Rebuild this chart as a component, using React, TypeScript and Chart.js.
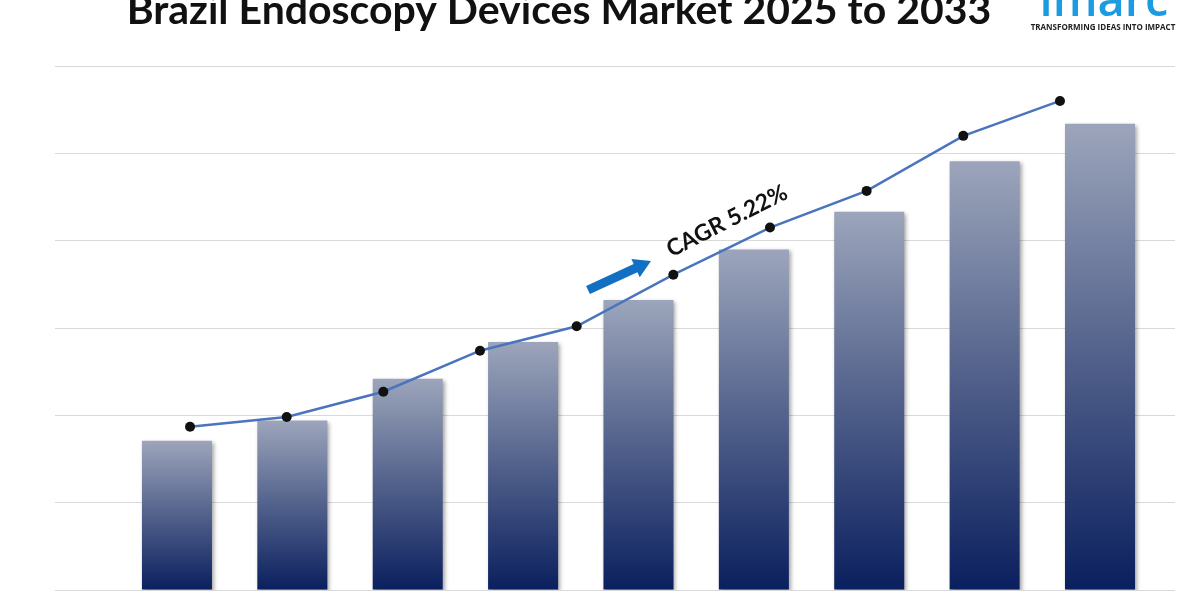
import React, { useEffect, useRef } from "react";
import { Chart, registerables } from "chart.js";

Chart.register(...registerables);

// ---- data ----
const years = ["2025", "2026", "2027", "2028", "2029", "2030", "2031", "2032", "2033"];
const barValues = [1.71, 1.94, 2.42, 2.84, 3.32, 3.9, 4.33, 4.91, 5.34];
const trendValues = [1.87, 1.98, 2.27, 2.74, 3.02, 3.61, 4.15, 4.57, 5.2, 5.6];
const yTicks = [0, 1, 2, 3, 4, 5, 6];
const titleText = "Brazil Endoscopy Devices Market 2025 to 2033";
const cagrText = "CAGR 5.22%";
const brandText = "imarc";
const taglineText = "TRANSFORMING IDEAS INTO IMPACT";

const shadowPlugin = {
  id: "barShadow",
  beforeDatasetDraw(chart: any, args: any) {
    if (args.index !== 0) return;
    const ctx = chart.ctx;
    ctx.save();
    ctx.shadowColor = "rgba(0,0,0,0.35)";
    ctx.shadowBlur = 4;
    ctx.shadowOffsetX = 2;
    ctx.shadowOffsetY = 2;
  },
  afterDatasetDraw(chart: any, args: any) {
    if (args.index !== 0) return;
    chart.ctx.restore();
  },
};

const decorPlugin = {
  id: "decor",
  afterDraw(chart: any) {
    const ctx = chart.ctx as CanvasRenderingContext2D;
    ctx.save();
    // title
    ctx.fillStyle = "#111111";
    ctx.font = "bold 41px Lato";
    ctx.textAlign = "center";
    ctx.textBaseline = "alphabetic";
    ctx.fillText(titleText, 559, 24);

    // brand logo
    ctx.fillStyle = "#1b9be0";
    ctx.font = "600 47px 'Open Sans'";
    ctx.textAlign = "center";
    ctx.fillText(brandText, 1104, 16);
    ctx.fillStyle = "#222222";
    ctx.font = "bold 8px 'Open Sans'";
    ctx.fillText(taglineText, 1103, 30);

    // arrow
    const x0 = 588, y0 = 290, x1 = 651, y1 = 261;
    const ang = Math.atan2(y1 - y0, x1 - x0);
    const len = Math.hypot(x1 - x0, y1 - y0);
    ctx.translate(x0, y0);
    ctx.rotate(ang);
    ctx.fillStyle = "#1170c4";
    const sh = 4.5, hw = 10, hl = 17;
    ctx.beginPath();
    ctx.moveTo(0, -sh);
    ctx.lineTo(len - hl, -sh);
    ctx.lineTo(len - hl, -hw);
    ctx.lineTo(len, 0);
    ctx.lineTo(len - hl, hw);
    ctx.lineTo(len - hl, sh);
    ctx.lineTo(0, sh);
    ctx.closePath();
    ctx.fill();
    ctx.setTransform(1, 0, 0, 1, 0, 0);

    // CAGR label
    ctx.translate(727, 221);
    ctx.rotate(-0.47);
    ctx.fillStyle = "#111111";
    ctx.font = "bold 23px Lato";
    ctx.textAlign = "center";
    ctx.textBaseline = "middle";
    ctx.fillText(cagrText, 0, 0);
    ctx.restore();
  },
};

export default function App() {
  const ref = useRef<HTMLCanvasElement | null>(null);

  useEffect(() => {
    if (!ref.current) return;
    const barGradient = (c: any) => {
      const chart = c.chart;
      const ys = chart.scales?.y;
      if (!ys || c.dataIndex === undefined) return "#4d5d88";
      const v = barValues[c.dataIndex];
      const top = ys.getPixelForValue(v);
      const bottom = ys.getPixelForValue(0);
      if (!isFinite(top) || !isFinite(bottom) || top === bottom) return "#4d5d88";
      const g = chart.ctx.createLinearGradient(0, top, 0, bottom);
      g.addColorStop(0, "#9ca5bb");
      g.addColorStop(0.5, "#52618b");
      g.addColorStop(1, "#0a1f5e");
      return g;
    };

    const chart = new Chart(ref.current, {
      type: "bar",
      data: {
        datasets: [
          {
            type: "bar",
            label: "Market",
            data: years.map((yr, i) => ({ x: Number(yr), y: barValues[i] })),
            xAxisID: "x",
            yAxisID: "y",
            grouped: false,
            categoryPercentage: 1,
            barPercentage: 0.607,
            backgroundColor: barGradient,
            borderWidth: 0,
            order: 1,
          } as any,
          {
            type: "line",
            label: "Trend",
            data: trendValues.map((v, i) => ({ x: i, y: v })),
            xAxisID: "x2",
            yAxisID: "y",
            borderColor: "#4a74bd",
            borderWidth: 2.5,
            pointRadius: 5,
            pointBackgroundColor: "#111111",
            pointBorderWidth: 0,
            tension: 0,
            order: 0,
          } as any,
        ],
      },
      options: {
        responsive: false,
        maintainAspectRatio: false,
        animation: false,
        layout: { padding: { left: 55, right: 25, top: 66, bottom: 10 } },
        plugins: {
          legend: { display: false },
          tooltip: { enabled: false },
          title: { display: false },
        },
        scales: {
          x: { type: "linear", min: 2023.943, max: 2033.65, offset: false, display: false },
          x2: { type: "linear", min: -1.397, max: 10.19, offset: false, display: false },
          y: {
            min: yTicks[0],
            max: yTicks[yTicks.length - 1],
            ticks: { display: false, stepSize: 1 },
            grid: { color: "#d9d9d9", drawTicks: false, lineWidth: 1 },
            border: { display: false },
          },
        },
      },
      plugins: [shadowPlugin, decorPlugin],
    } as any);
    return () => chart.destroy();
  }, []);

  return (
    <div style={{ position: "absolute", left: 0, top: 0, width: 1200, height: 600, background: "#ffffff" }}>
      <canvas ref={ref} width={1200} height={600} style={{ display: "block" }} />
    </div>
  );
}
